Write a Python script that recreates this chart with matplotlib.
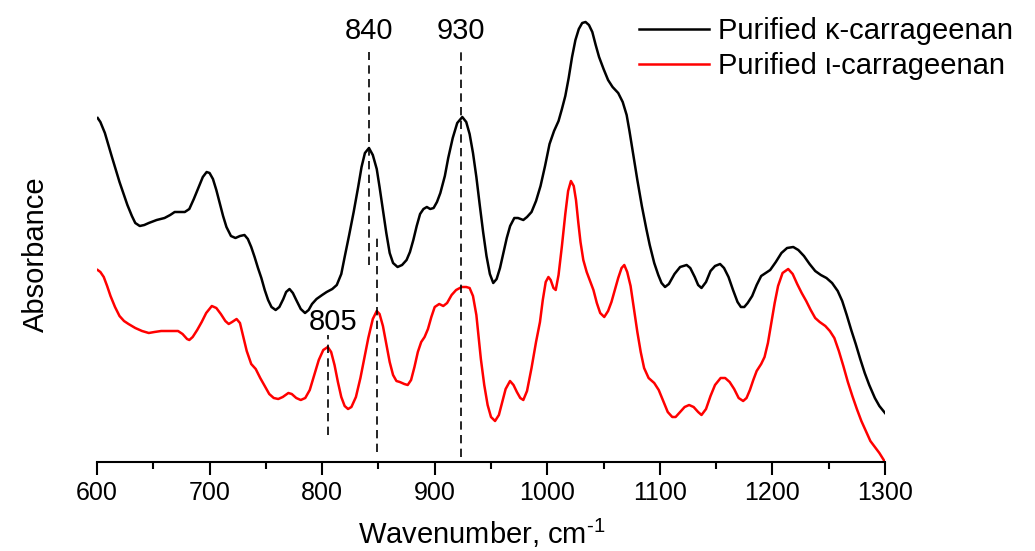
import matplotlib
matplotlib.use('Agg')
import matplotlib.pyplot as plt
import numpy as np

plt.rcParams['font.family'] = ['Liberation Sans', 'DejaVu Sans']
plt.rcParams['mathtext.fontset'] = 'custom'
plt.rcParams['mathtext.rm'] = 'Liberation Sans'

# wavenumber (cm-1) and absorbance (arb. units)
kappa_x = [600.6, 603, 607, 613, 620, 627, 631, 634, 638, 642, 646, 653, 660, 665, 669,
           674, 678, 682, 686, 690, 694, 697.4, 700, 703, 706, 709, 712, 715, 719, 723,
           727, 731, 734, 737, 740, 743, 746, 749, 752, 755, 758.7, 762, 765.5, 768, 771,
           774, 777, 781, 784.8, 788, 791, 795, 800, 804, 809, 813, 817, 820, 824, 828,
           832, 835, 838, 841.6, 845, 848.5, 851, 854, 857, 860, 863, 867, 871, 875, 878,
           881, 884, 887, 890, 893, 896, 899, 902, 905, 909, 912, 916, 920, 924.5, 928,
           931, 934, 937, 940, 943, 946, 949, 952, 955, 958, 961, 964, 967, 970.7, 974,
           978.7, 982, 986, 990, 994, 998, 1002, 1006, 1010, 1013, 1016, 1019, 1022, 1025, 1028,
           1031, 1034, 1037, 1040, 1043, 1046, 1050, 1054, 1058, 1063, 1067, 1070.5, 1073, 1076, 1080,
           1084, 1088, 1091, 1095, 1098.6, 1101.5, 1104.6, 1108, 1113, 1118, 1123.8, 1127, 1131, 1134, 1137,
           1141, 1145, 1149, 1153.5, 1157, 1161, 1165, 1169, 1172, 1175, 1178, 1182, 1186, 1190, 1194,
           1198, 1203, 1208, 1213, 1218.5, 1223, 1228, 1233, 1238, 1243, 1248, 1253, 1258, 1262, 1266,
           1270, 1274, 1278, 1282, 1286, 1291, 1295, 1300]
kappa_y = [3.44, 3.40, 3.29, 3.06, 2.80, 2.57, 2.46, 2.39, 2.36, 2.37, 2.39, 2.42, 2.44, 2.47, 2.50,
           2.50, 2.50, 2.53, 2.63, 2.74, 2.85, 2.90, 2.89, 2.83, 2.72, 2.59, 2.46, 2.35, 2.26, 2.24,
           2.26, 2.27, 2.23, 2.15, 2.05, 1.94, 1.84, 1.72, 1.62, 1.55, 1.52, 1.55, 1.63, 1.70, 1.73,
           1.69, 1.62, 1.53, 1.49, 1.52, 1.58, 1.63, 1.67, 1.70, 1.73, 1.77, 1.88, 2.05, 2.27, 2.50,
           2.75, 2.95, 3.09, 3.14, 3.07, 2.93, 2.75, 2.52, 2.29, 2.09, 1.99, 1.95, 1.97, 2.02, 2.10,
           2.22, 2.36, 2.48, 2.53, 2.55, 2.53, 2.54, 2.60, 2.69, 2.86, 3.04, 3.24, 3.39, 3.45, 3.40,
           3.28, 3.09, 2.85, 2.57, 2.30, 2.06, 1.88, 1.79, 1.83, 1.94, 2.09, 2.24, 2.36, 2.44, 2.44,
           2.42, 2.45, 2.50, 2.61, 2.76, 2.96, 3.18, 3.31, 3.41, 3.53, 3.66, 3.84, 4.05, 4.22, 4.33,
           4.39, 4.40, 4.37, 4.30, 4.17, 4.05, 3.93, 3.82, 3.75, 3.69, 3.60, 3.47, 3.31, 3.10, 2.82,
           2.56, 2.33, 2.17, 1.99, 1.87, 1.79, 1.75, 1.78, 1.88, 1.95, 1.97, 1.94, 1.85, 1.77, 1.74,
           1.80, 1.91, 1.96, 1.98, 1.94, 1.85, 1.72, 1.60, 1.55, 1.55, 1.59, 1.66, 1.77, 1.86, 1.89,
           1.92, 2.00, 2.09, 2.14, 2.15, 2.12, 2.06, 1.98, 1.91, 1.87, 1.84, 1.79, 1.71, 1.61, 1.47,
           1.32, 1.18, 1.03, 0.89, 0.77, 0.64, 0.56, 0.49]

iota_x = [600.6, 603, 606, 609, 612, 616, 620, 624, 628, 634, 640, 646, 651, 657, 663,
          668, 672, 676, 680, 682, 685, 689, 693, 697, 702, 706, 710, 714, 717, 720,
          724, 727, 730, 733, 737, 741, 745, 749, 753, 757, 761, 765, 770, 773, 777,
          781, 785, 789, 793, 797, 801, 805, 808, 811, 814, 817, 820, 823, 826, 830,
          834, 838, 841, 845, 848.5, 851, 854, 857, 860, 863, 866, 869, 873, 876, 879,
          882, 885, 888, 891, 894, 897, 900, 904, 907.6, 911, 915, 919, 924, 928, 931,
          934, 937, 939, 941, 944, 947, 950, 953.6, 957, 960, 963, 966.9, 970, 973, 976,
          978.7, 982, 986, 990, 993.5, 996, 998.6, 1001, 1003, 1005.5, 1007.5, 1010, 1013, 1016, 1018.5,
          1021, 1023.5, 1025.5, 1027.5, 1029.5, 1032, 1035, 1038, 1041, 1044, 1047, 1050.6, 1054, 1057, 1060,
          1063, 1066, 1068.4, 1071, 1074, 1077, 1080, 1083, 1086, 1090, 1095, 1099, 1103, 1107, 1111,
          1114, 1118, 1122, 1126, 1130, 1134, 1137, 1141, 1145, 1149, 1154, 1158, 1162, 1166, 1170,
          1174, 1177, 1180, 1183, 1186, 1190, 1193, 1196, 1199, 1202, 1205, 1209, 1214, 1218, 1222,
          1226, 1230, 1234, 1238, 1242, 1247, 1251, 1255, 1259, 1263, 1267, 1271, 1275, 1279, 1283,
          1287, 1291, 1295, 1300]
iota_y = [1.92, 1.90, 1.85, 1.76, 1.66, 1.55, 1.46, 1.41, 1.38, 1.34, 1.31, 1.29, 1.30, 1.31, 1.31,
          1.31, 1.31, 1.28, 1.23, 1.22, 1.25, 1.32, 1.40, 1.49, 1.56, 1.54, 1.48, 1.41, 1.38, 1.40,
          1.43, 1.39, 1.25, 1.11, 0.98, 0.93, 0.84, 0.76, 0.68, 0.64, 0.63, 0.65, 0.69, 0.68, 0.64,
          0.62, 0.64, 0.72, 0.87, 1.02, 1.12, 1.15, 1.10, 0.97, 0.80, 0.65, 0.56, 0.53, 0.55, 0.65,
          0.84, 1.07, 1.24, 1.43, 1.51, 1.48, 1.36, 1.18, 1.00, 0.87, 0.81, 0.80, 0.78, 0.77, 0.82,
          0.95, 1.10, 1.20, 1.25, 1.33, 1.45, 1.55, 1.58, 1.56, 1.59, 1.67, 1.72, 1.75, 1.75, 1.74,
          1.66, 1.47, 1.25, 1.03, 0.77, 0.57, 0.45, 0.41, 0.47, 0.60, 0.73, 0.81, 0.77, 0.70, 0.64,
          0.62, 0.71, 0.94, 1.20, 1.40, 1.62, 1.80, 1.85, 1.82, 1.74, 1.72, 1.87, 2.16, 2.48, 2.71,
          2.81, 2.76, 2.62, 2.40, 2.20, 2.02, 1.90, 1.81, 1.72, 1.59, 1.49, 1.45, 1.51, 1.60, 1.72,
          1.84, 1.94, 1.97, 1.90, 1.76, 1.53, 1.30, 1.10, 0.94, 0.84, 0.79, 0.72, 0.61, 0.50, 0.45,
          0.45, 0.50, 0.55, 0.57, 0.55, 0.50, 0.47, 0.53, 0.66, 0.77, 0.84, 0.84, 0.80, 0.73, 0.64,
          0.61, 0.64, 0.72, 0.82, 0.91, 0.98, 1.05, 1.19, 1.39, 1.59, 1.76, 1.89, 1.93, 1.88, 1.78,
          1.69, 1.61, 1.52, 1.44, 1.40, 1.36, 1.31, 1.24, 1.11, 0.96, 0.80, 0.66, 0.53, 0.41, 0.31,
          0.21, 0.15, 0.09, 0.00]

# marked bands: position, line bottom, line top
mark_x = [841.9, 848.7, 923.3, 805.5]
mark_lo = [1.97, 0.10, 0.05, 0.27]
mark_hi = [4.10, 2.24, 4.10, 1.27]
label_txt = ['840', '930', '805']
label_x = [841.9, 923.3, 809.6]
label_y = [4.31, 4.31, 1.40]

fig = plt.figure(figsize=(10.35, 5.51), dpi=100)
ax = fig.add_axes([97/1035, 1 - 462/551, 788/1035, 452/551])

ax.plot(kappa_x, kappa_y, color='black', lw=1.8, label='Purified κ-carrageenan')
ax.plot(iota_x, iota_y, color='#ff0000', lw=1.8, label='Purified ι-carrageenan')

for x, lo, hi in zip(mark_x, mark_lo, mark_hi):
    ax.plot([x, x], [lo, hi], color='black', lw=1.2, dashes=(5, 3.2))
for t, x, y in zip(label_txt, label_x, label_y):
    ax.text(x, y, t, ha='center', va='center', fontsize=21)

ax.set_xlim(600, 1300)
ax.set_ylim(0, 4.52)
ax.set_xticks(np.arange(600, 1301, 100))
ax.set_xticks(np.arange(650, 1300, 100), minor=True)
ax.tick_params(axis='x', which='major', direction='out', length=9, width=1.5,
               labelsize=18, pad=5)
ax.tick_params(axis='x', which='minor', direction='out', length=5, width=1.5)
ax.set_yticks([])
for s in ['left', 'right', 'top']:
    ax.spines[s].set_visible(False)
ax.spines['bottom'].set_linewidth(1.5)

ax.set_xlabel('Wavenumber, cm$\\mathregular{^{\u2010 1}}$', fontsize=21)
ax.xaxis.set_label_coords(0.4886, -0.122)
ax.set_ylabel('Absorbance', fontsize=21)
ax.yaxis.set_label_coords(-0.06, 0.46)

ax.legend(loc='upper left', bbox_to_anchor=(639/1035, 1 - 17/551),
          bbox_transform=fig.transFigure, frameon=False, fontsize=21,
          handlelength=2.4, handletextpad=0.3, labelspacing=0.25,
          borderpad=0, borderaxespad=0)

fig.savefig('out.png', dpi=100)
